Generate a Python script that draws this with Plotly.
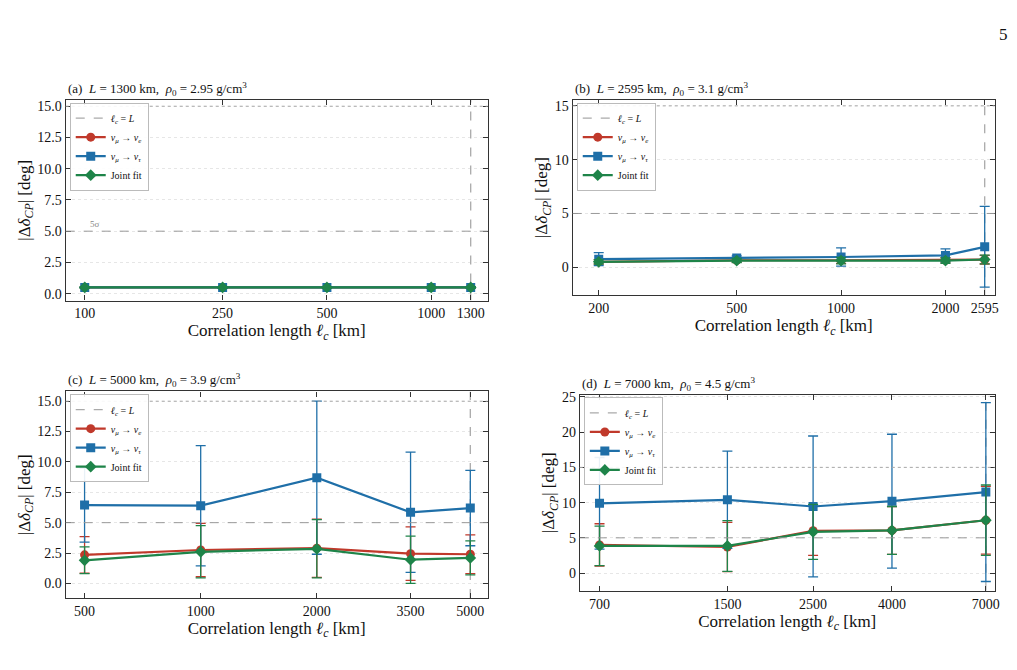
import plotly.graph_objects as go

FONT = "Liberation Serif"
RED, BLUE, GREEN = "#c0392b", "#1f6fa8", "#1e8449"

# Panel data
xa = [100, 250, 500, 1000, 1300]
ra = [0.5, 0.5, 0.5, 0.5, 0.5]; rae = [0.05]*5
ba = [0.5, 0.5, 0.5, 0.5, 0.5]; bae = [0.05]*5
ga = [0.5, 0.5, 0.5, 0.5, 0.5]; gae = [0.05]*5

xb = [200, 500, 1000, 2000, 2595]
rb = [0.5, 0.65, 0.65, 0.65, 0.7]; rbe = [0.2, 0.2, 0.3, 0.25, 0.4]
bb = [0.75, 0.85, 0.95, 1.1, 1.9]; bbe = [0.6, 0.2, 0.85, 0.6, 3.75]
gb = [0.5, 0.62, 0.62, 0.62, 0.72]; gbe = [0.2, 0.2, 0.3, 0.25, 0.4]

xc = [500, 1000, 2000, 3500, 5000]
rc = [2.35, 2.75, 2.9, 2.45, 2.4]; rce = [1.5, 2.2, 2.4, 2.2, 1.6]
bc = [6.45, 6.4, 8.7, 5.85, 6.2]; bce = [3.05, 4.95, 6.3, 4.95, 3.1]
gc = [1.9, 2.6, 2.85, 1.95, 2.1]; gce = [1.1, 2.15, 2.4, 1.95, 1.4]

xd = [700, 1500, 2500, 4000, 7000]
rd = [4.0, 3.7, 6.0, 6.05, 7.5]; rde = [3.0, 3.5, 3.5, 3.4, 4.8]
bd = [9.9, 10.4, 9.45, 10.2, 11.5]; bde = [6.5, 6.9, 10.0, 9.5, 12.7]
gd = [3.85, 3.85, 5.85, 6.05, 7.5]; gde = [2.8, 3.6, 3.9, 3.4, 5.0]

titles = ["(a)  <i>L</i> = 1300 km,  <i>ρ</i><sub>0</sub> = 2.95 g/cm<sup>3</sup>",
          "(b)  <i>L</i> = 2595 km,  <i>ρ</i><sub>0</sub> = 3.1 g/cm<sup>3</sup>",
          "(c)  <i>L</i> = 5000 km,  <i>ρ</i><sub>0</sub> = 3.9 g/cm<sup>3</sup>",
          "(d)  <i>L</i> = 7000 km,  <i>ρ</i><sub>0</sub> = 4.5 g/cm<sup>3</sup>"]
Ls = [1300, 2595, 5000, 7000]
panels = [(xa, ra, rae, ba, bae, ga, gae), (xb, rb, rbe, bb, bbe, gb, gbe),
          (xc, rc, rce, bc, bce, gc, gce), (xd, rd, rde, bd, bde, gd, gde)]
xdom = [[0.057, 0.474], [0.558, 0.975], [0.057, 0.474], [0.565, 0.975]]
ydom = [[0.567, 0.869], [0.575, 0.869], [0.119, 0.430], [0.130, 0.425]]
xr = [[1.945, 3.163], [2.226, 3.443], [2.650, 3.744], [2.794, 3.868]]
yr = [[-0.55, 15.5], [-2.6, 15.55], [-1.2, 15.8], [-2.5, 25.3]]
ytv = [[0, 2.5, 5, 7.5, 10, 12.5, 15], [0, 5, 10, 15], [0, 2.5, 5, 7.5, 10, 12.5, 15], [0, 5, 10, 15, 20, 25]]
ytt = [["0.0", "2.5", "5.0", "7.5", "10.0", "12.5", "15.0"], ["0", "5", "10", "15"],
       ["0.0", "2.5", "5.0", "7.5", "10.0", "12.5", "15.0"], ["0", "5", "10", "15", "20", "25"]]

fig = go.Figure()
for i, (x, r, re_, b, be, g, ge) in enumerate(panels):
    ax = "" if i == 0 else str(i + 1)
    xref, yref = "x" + ax, "y" + ax
    leg = "legend" + ax
    fig.add_shape(type="line", xref=xref + " domain", yref=yref, x0=0, x1=1, y0=5, y1=5,
                  line=dict(color="#999", width=1, dash="dash"))
    fig.add_shape(type="line", xref=xref + " domain", yref=yref, x0=0, x1=1, y0=15, y1=15,
                  line=dict(color="#aaa", width=1, dash="dot"))
    fig.add_trace(go.Scatter(x=[Ls[i], Ls[i]], y=[yr[i][0], yr[i][1]], mode="lines",
                             line=dict(color="#aaa", width=1.3, dash="dash"),
                             name="<i>ℓ<sub>c</sub></i> = <i>L</i>", xaxis=xref, yaxis=yref, legend=leg))
    for vals, err, col, sym, nm in [(r, re_, RED, "circle", "<i>ν<sub>μ</sub></i> → <i>ν<sub>e</sub></i>"),
                                     (b, be, BLUE, "square", "<i>ν<sub>μ</sub></i> → <i>ν<sub>τ</sub></i>"),
                                     (g, ge, GREEN, "diamond", "Joint fit")]:
        fig.add_trace(go.Scatter(x=x, y=vals, mode="lines+markers", name=nm,
                                 error_y=dict(type="data", array=err, color=col, thickness=1.3, width=5),
                                 line=dict(color=col, width=2.2), marker=dict(symbol=sym, size=9, color=col),
                                 xaxis=xref, yaxis=yref, legend=leg))
    common = dict(showline=True, mirror="ticks", linecolor="#333", linewidth=1.2, ticks="inside",
                  tickcolor="#333", ticklen=5, tickfont=dict(size=14, family=FONT, color="#111"),
                  zeroline=False)
    fig.layout["xaxis" + ax] = dict(type="log", domain=xdom[i], range=xr[i], anchor=yref,
                                    tickvals=x, ticktext=[str(v) for v in x], showgrid=False,
                                    title=dict(text="Correlation length <i>ℓ<sub>c</sub></i> [km]",
                                               font=dict(size=17, family=FONT, color="#111"), standoff=2),
                                    **common)
    fig.layout["yaxis" + ax] = dict(domain=ydom[i], range=yr[i], anchor=xref, tickvals=ytv[i],
                                    ticktext=ytt[i], showgrid=True, gridcolor="#e6e6e6", griddash="dot",
                                    title=dict(text="|Δ<i>δ<sub>CP</sub></i>| [deg]",
                                               font=dict(size=17, family=FONT, color="#111"), standoff=2),
                                    **common)
    fig.layout[leg] = dict(x=xdom[i][0] + 0.004, y=ydom[i][1] - 0.004, xanchor="left", yanchor="top",
                           xref="paper", yref="paper", bgcolor="rgba(255,255,255,0.9)",
                           bordercolor="#bbb", borderwidth=1, font=dict(size=10, family=FONT, color="#111"),
                           tracegroupgap=0, itemwidth=30)
    fig.add_annotation(text=titles[i], xref="paper", yref="paper", x=xdom[i][0], y=ydom[i][1],
                       xanchor="left", yanchor="bottom", showarrow=False,
                       font=dict(size=13, family=FONT, color="#111"))

fig.add_annotation(text="5σ", xref="x", yref="y", x=2.03, xanchor="center", y=5, yanchor="bottom",
                   showarrow=False, font=dict(size=9, family=FONT, color="#888"))
fig.add_annotation(text="5", xref="paper", yref="paper", x=0.99, y=0.985, xanchor="right", yanchor="top",
                   showarrow=False, font=dict(size=17, family=FONT, color="#111"))
fig.update_layout(width=1017, height=670, margin=dict(l=0, r=0, t=0, b=0),
                  paper_bgcolor="white", plot_bgcolor="white", font=dict(family=FONT))
fig.write_html("out.html")
